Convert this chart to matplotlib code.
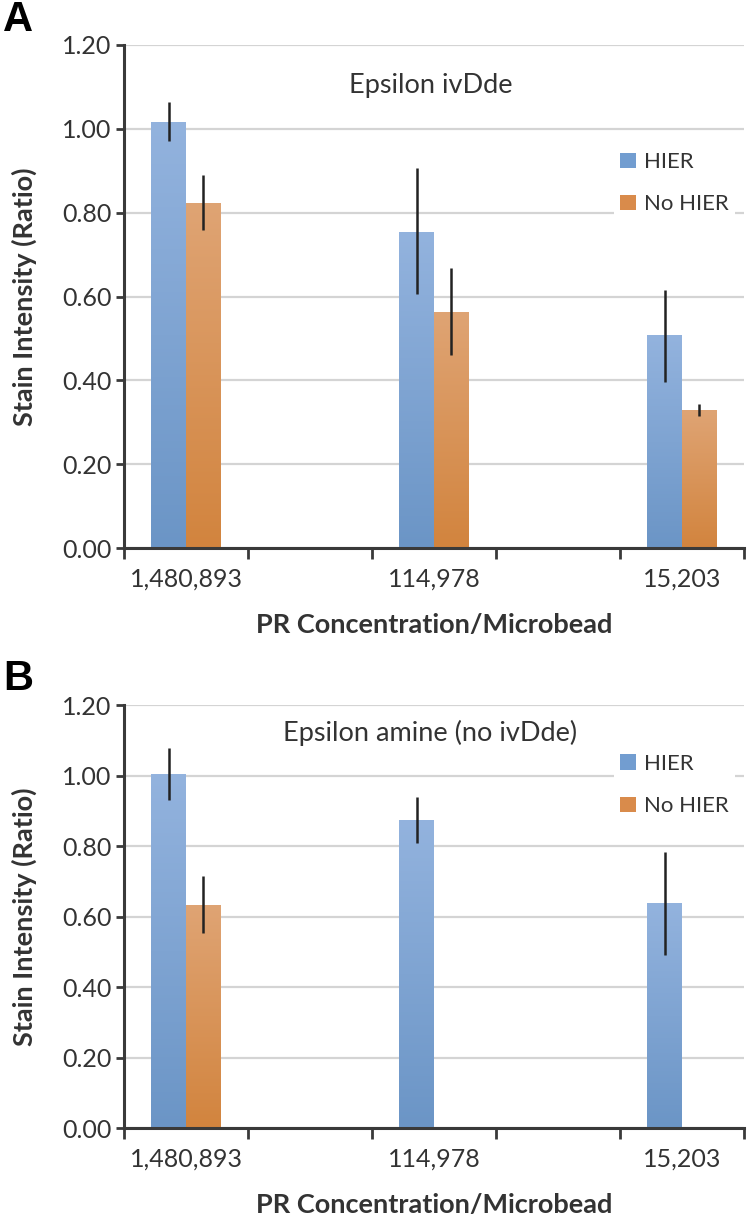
import numpy as np
import matplotlib
matplotlib.use("Agg")
import matplotlib.pyplot as plt
from matplotlib.patches import Patch
from matplotlib.colors import LinearSegmentedColormap

plt.rcParams['font.family'] = ['Lato', 'DejaVu Sans']

# ---------------- data ----------------
categories = ['1,480,893', '', '114,978', '', '15,203']
series = ['HIER', 'No HIER']

a_title = 'Epsilon ivDde'
a_hier = [1.017, np.nan, 0.755, np.nan, 0.507]
a_hier_lo = [0.971, np.nan, 0.605, np.nan, 0.395]
a_hier_hi = [1.063, np.nan, 0.906, np.nan, 0.616]
a_nohier = [0.824, np.nan, 0.564, np.nan, 0.329]
a_nohier_lo = [0.758, np.nan, 0.461, np.nan, 0.315]
a_nohier_hi = [0.890, np.nan, 0.668, np.nan, 0.343]

b_title = 'Epsilon amine (no ivDde)'
b_hier = [1.003, np.nan, 0.874, np.nan, 0.637]
b_hier_lo = [0.931, np.nan, 0.808, np.nan, 0.491]
b_hier_hi = [1.077, np.nan, 0.939, np.nan, 0.782]
b_nohier = [0.633, np.nan, np.nan, np.nan, np.nan]
b_nohier_lo = [0.552, np.nan, np.nan, np.nan, np.nan]
b_nohier_hi = [0.716, np.nan, np.nan, np.nan, np.nan]

yticks = [0.0, 0.2, 0.4, 0.6, 0.8, 1.0, 1.2]

# ---------------- style ----------------
W, H = 751, 1225
fig = plt.figure(figsize=(W / 100, H / 100), dpi=100)

blue_top, blue_bot = '#93b3de', '#6b95c6'
orange_top, orange_bot = '#dfa474', '#d2843e'
blue_leg, orange_leg = '#729dd0', '#d98b4b'
spine_c = '#3a3a3a'
grid_c = '#d4d4d4'
text_c = '#333333'


def axes_rect(top_px, bottom_px, left_px=124, right_px=744):
    return [left_px / W, 1 - bottom_px / H, (right_px - left_px) / W, (bottom_px - top_px) / H]


def gradient_bars(ax, x, vals, width, ctop, cbot):
    bars = ax.bar(x, vals, width=width, color=cbot, edgecolor='none', zorder=2)
    cmap = LinearSegmentedColormap.from_list('g', [cbot, ctop])
    grad = np.linspace(0, 1, 256).reshape(-1, 1)
    for b in bars:
        h = b.get_height()
        if not np.isfinite(h) or h == 0:
            continue
        x0 = b.get_x()
        im = ax.imshow(grad, cmap=cmap, aspect='auto', origin='lower',
                       extent=[x0, x0 + b.get_width(), 0, h], zorder=2.1,
                       interpolation='bilinear')
        im.set_clip_path(b)
    return bars


def panel(rect, title, title_y, hier, hlo, hhi, noh, nlo, nhi, leg_y, letter, letter_y):
    ax = fig.add_axes(rect)
    n = len(categories)
    x = np.arange(n)
    bw = 0.28
    hier = np.array(hier, float)
    noh = np.array(noh, float)
    gradient_bars(ax, x - bw / 2, hier, bw, blue_top, blue_bot)
    gradient_bars(ax, x + bw / 2, noh, bw, orange_top, orange_bot)
    herr = [hier - np.array(hlo, float), np.array(hhi, float) - hier]
    nerr = [noh - np.array(nlo, float), np.array(nhi, float) - noh]
    ax.errorbar(x - bw / 2, hier, yerr=herr, fmt='none', ecolor='#222222',
                elinewidth=1.8, capsize=0, zorder=3)
    ax.errorbar(x + bw / 2, noh, yerr=nerr, fmt='none', ecolor='#222222',
                elinewidth=1.8, capsize=0, zorder=3)

    ax.set_xlim(-0.5, n - 0.5)
    ax.set_ylim(0, 1.2)
    ax.set_yticks(yticks)
    ax.set_yticklabels([f'{v:.2f}' for v in yticks])
    ax.yaxis.grid(True, color=grid_c, linewidth=1.6, zorder=0)
    ax.set_axisbelow(True)
    ax.set_xticks(np.arange(n + 1) - 0.5)
    ax.set_xticklabels([])
    ax.set_xticks(x, minor=True)
    ax.set_xticklabels(categories, minor=True)
    ax.tick_params(axis='x', which='major', length=8, width=2, color=spine_c, direction='out')
    ax.tick_params(axis='x', which='minor', length=0, pad=14, labelsize=18, labelcolor=text_c)
    ax.tick_params(axis='y', length=6, width=2, color=spine_c, direction='out', pad=3,
                   labelsize=18, labelcolor=text_c)
    for s in ['top', 'right']:
        ax.spines[s].set_visible(False)
    for s in ['left', 'bottom']:
        ax.spines[s].set_color(spine_c)
        ax.spines[s].set_linewidth(2.2)

    ax.text(0.494, title_y, title, transform=ax.transAxes, ha='center', va='center',
            fontsize=19.5, color=text_c)
    ax.set_ylabel('Stain Intensity (Ratio)', fontsize=19.5, fontweight='bold', color=text_c,
                  labelpad=18)
    ax.set_xlabel('PR Concentration/Microbead', fontsize=19.5, fontweight='bold', color=text_c,
                  labelpad=16)

    handles = [Patch(facecolor=blue_leg, edgecolor='none'),
               Patch(facecolor=orange_leg, edgecolor='none')]
    leg = ax.legend(handles, series, loc='upper left', bbox_to_anchor=(0.79, leg_y),
                    frameon=True, fontsize=16, handlelength=0.7, handleheight=0.7,
                    handletextpad=0.35, labelspacing=1.0, borderpad=0.3,
                    borderaxespad=0)
    leg.get_frame().set_facecolor('white')
    leg.get_frame().set_edgecolor('none')
    leg.get_frame().set_alpha(1)
    for t in leg.get_texts():
        t.set_color(text_c)

    fig.text(3 / W, letter_y, letter, fontsize=30, fontweight='bold', ha='left', va='center',
             family=['Liberation Sans', 'DejaVu Sans'])
    return ax


axA = panel(axes_rect(45, 548), a_title, 0.92, a_hier, a_hier_lo, a_hier_hi,
            a_nohier, a_nohier_lo, a_nohier_hi, 0.80, 'A', 1 - 20 / H)
axB = panel(axes_rect(705, 1128), b_title, 0.935, b_hier, b_hier_lo, b_hier_hi,
            b_nohier, b_nohier_lo, b_nohier_hi, 0.90, 'B', 1 - 679 / H)

fig.savefig('out.png', dpi=100)
